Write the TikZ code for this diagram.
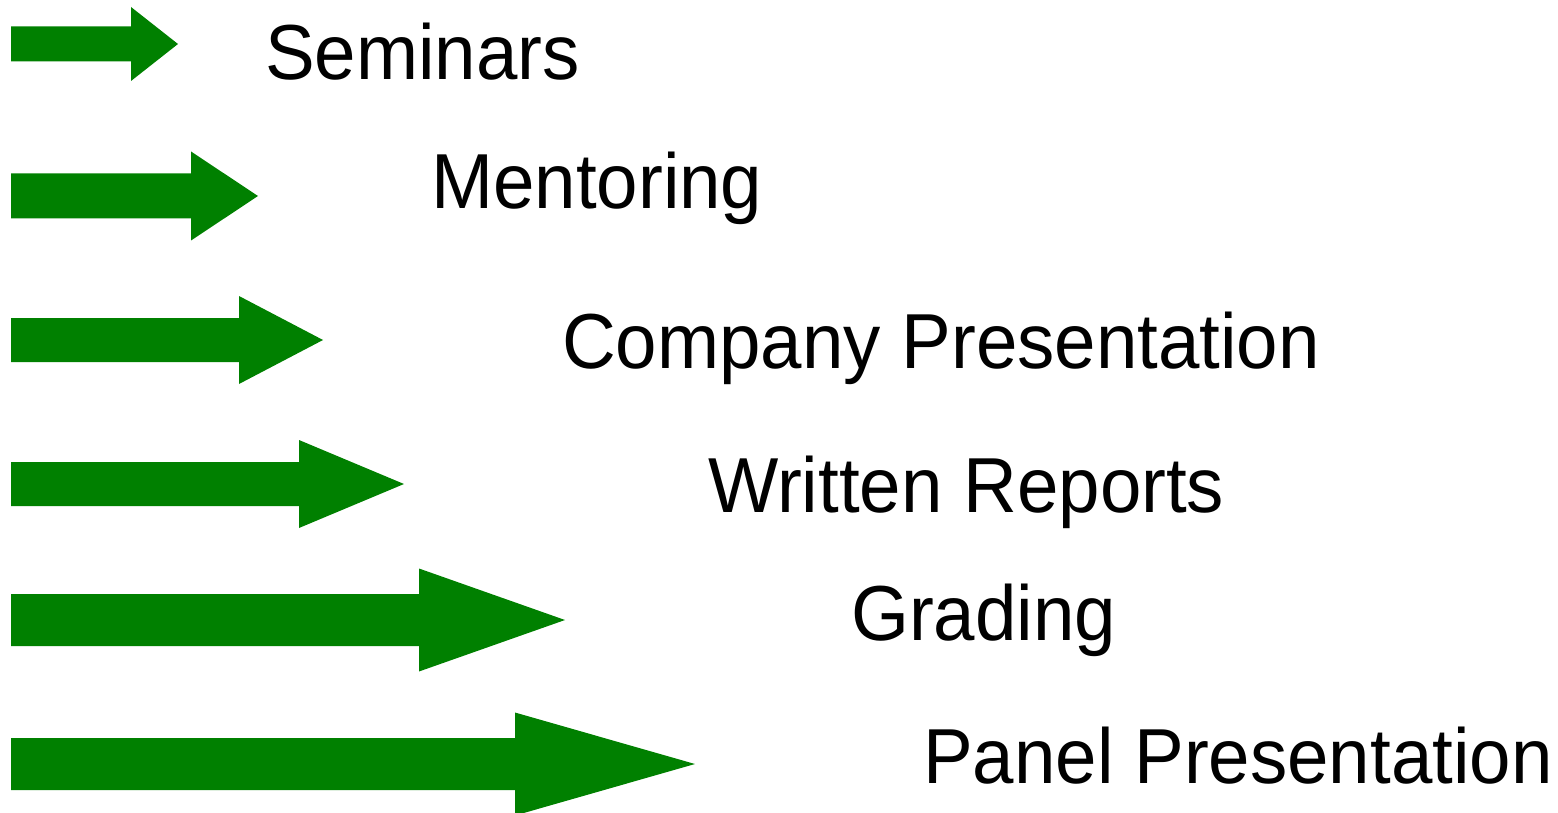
\documentclass[tikz,border=0pt]{standalone}
\usepackage{fontspec}
\newfontfamily\labelfont[FakeStretch=0.955]{Liberation Sans}
\definecolor{arrowgreen}{RGB}{0,128,0}
% block arrow: #1 name, #2 centre y, #3 shaft half height, #4 head start x, #5 head half height, #6 tip x
\newcommand{\blockarrow}[6]{%
  \fill[arrowgreen] (11,#2-#3) -- (#4,#2-#3) -- (#4,#2-#5) -- (#6,#2)
    -- (#4,#2+#5) -- (#4,#2+#3) -- (11,#2+#3) -- cycle;
  \coordinate (#1) at (#6,#2);}
\tikzset{
  itemlabel/.style={anchor=base west, inner sep=0pt, font=\labelfont\fontsize{78}{80}\selectfont}
}
\begin{document}
\begin{tikzpicture}[x=1pt,y=-1pt]
  \useasboundingbox (0,0) rectangle (1558,813);
  \blockarrow{a1}{44}{17.5}{131}{37}{178}
  \blockarrow{a2}{196}{22.5}{191}{44.5}{258}
  \blockarrow{a3}{340}{22}{239}{44}{323}
  \blockarrow{a4}{484}{22}{299}{44}{404}
  \blockarrow{a5}{620}{26}{419}{51.5}{565}
  \blockarrow{a6}{764}{26}{515}{51.5}{695}
  \node[itemlabel] (seminars) at (265,80) {Seminars};
  \node[itemlabel] (mentoring) at (431,209) {Mentoring};
  \node[itemlabel] (company) at (562,368) {Company Presentation};
  \node[itemlabel] (written) at (708,512) {Written Reports};
  \node[itemlabel] (grading) at (851,640) {Grading};
  \node[itemlabel] (panel) at (923,783) {Panel Presentation};
\end{tikzpicture}
\end{document}
